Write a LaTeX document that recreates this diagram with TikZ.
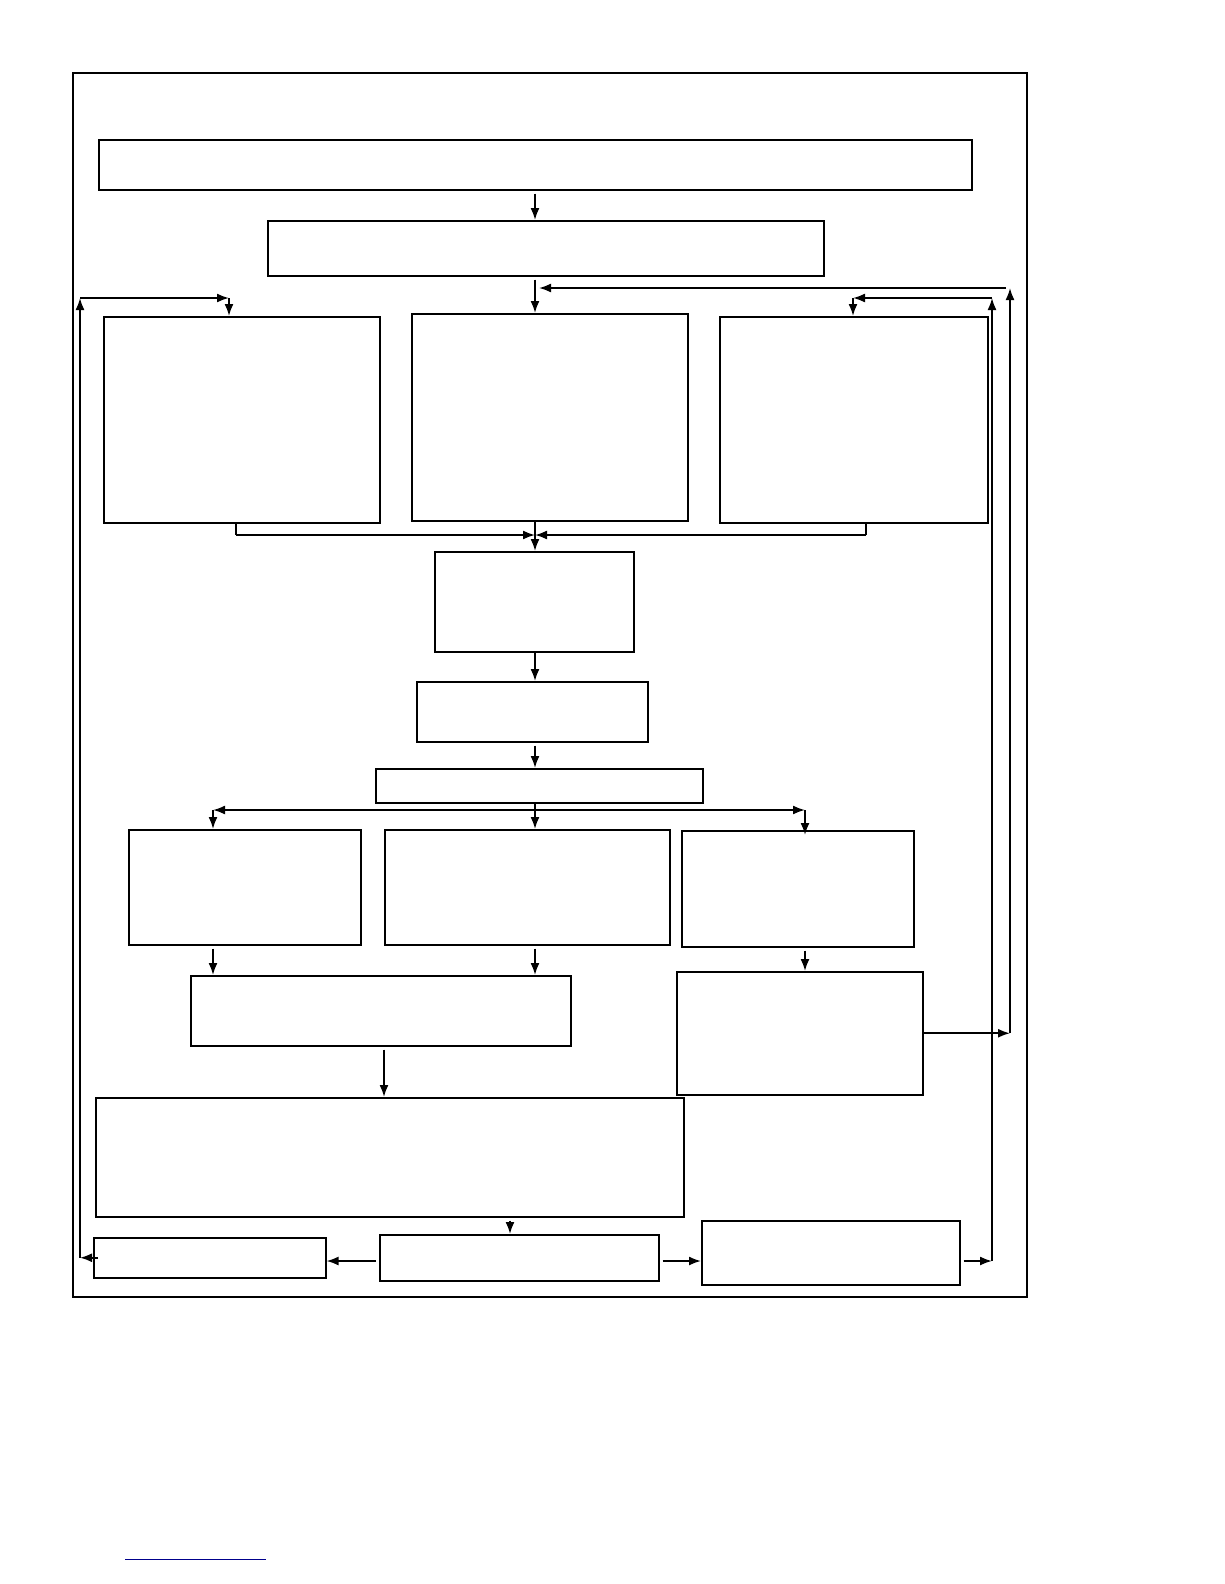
\documentclass[tikz,border=0pt]{standalone}
\usetikzlibrary{shapes,arrows.meta}
\usetikzlibrary{positioning}
\tikzstyle{block} = [rectangle, draw, line width=1.5pt, inner sep=0pt,
    anchor=north west]
\tikzstyle{line} = [draw, line width=1.8pt, -{Latex[length=12pt, width=9pt]}]
\tikzstyle{rail} = [draw, line width=1.8pt]
\begin{document}
\begin{tikzpicture}[x=1pt, y=-1pt]
    \useasboundingbox (0,0) rectangle (1224,1584);
    % Frame
    \draw [line width=2.6pt] (73,73) rectangle (1027,1297);
    % Place nodes
    \node [block, minimum width=873pt, minimum height=50pt] (top) at (98,139) {};
    \node [block, minimum width=556pt, minimum height=55pt] (second) at (267,220) {};
    \node [block, minimum width=276pt, minimum height=206pt] (lbig) at (103,316) {};
    \node [block, minimum width=276pt, minimum height=207pt] (mbig) at (411,313) {};
    \node [block, minimum width=268pt, minimum height=206pt] (rbig) at (719,316) {};
    \node [block, minimum width=199pt, minimum height=100pt] (small) at (434,551) {};
    \node [block, minimum width=231pt, minimum height=60pt] (mid) at (416,681) {};
    \node [block, minimum width=327pt, minimum height=34pt] (bar) at (375,768) {};
    \node [block, minimum width=232pt, minimum height=115pt] (r3l) at (128,829) {};
    \node [block, minimum width=285pt, minimum height=115pt] (r3m) at (384,829) {};
    \node [block, minimum width=232pt, minimum height=116pt] (r3r) at (681,830) {};
    \node [block, minimum width=380pt, minimum height=70pt] (r4l) at (190,975) {};
    \node [block, minimum width=246pt, minimum height=123pt] (r4r) at (676,971) {};
    \node [block, minimum width=588pt, minimum height=119pt] (wide) at (95,1097) {};
    \node [block, minimum width=232pt, minimum height=40pt] (bl) at (93,1237) {};
    \node [block, minimum width=279pt, minimum height=46pt] (bm) at (379,1234) {};
    \node [block, minimum width=258pt, minimum height=64pt] (br) at (701,1220) {};

    % Columns and rows of the connectors
    \coordinate (spine) at (535,0);
    \coordinate (lrail) at (80,0);
    \coordinate (irail) at (992,0);
    \coordinate (orail) at (1010,0);
    \coordinate (fl) at (229,298);
    \coordinate (fr) at (853,298);
    \coordinate (ft) at (535,288);
    \coordinate (jl) at (236,535);
    \coordinate (jr) at (866,535);
    \coordinate (jm) at (535,535);
    \coordinate (sl) at (213,810);
    \coordinate (sr) at (805,810);
    \coordinate (sm) at (535,810);
    \coordinate (lo) at (0,1261);

    % Draw edges
    \path [line, shorten <=3pt] (top.south -| spine) -- (second.north -| spine);
    \path [line, shorten <=3pt] (second.south -| spine) -- (mbig.north -| spine);
    \path [rail] (lbig.south -| jl) -- (jl);
    \path [line] (jl) -- (jm);
    \path [rail] (rbig.south -| jr) -- (jr);
    \path [line] (jr) -- (jm);
    \path [line] (mbig.south -| spine) -- (small.north -| spine);
    \path [line] (small.south -| spine) -- (mid.north -| spine);
    \path [line, shorten <=3pt] (mid.south -| spine) -- (bar.north -| spine);
    \path [line] (bar.south -| spine) -- (r3m.north -| spine);
    \path [line] (sm) -- (sl);
    \path [line] (sm) -- (sr);
    \path [line] (sl) -- (r3l.north -| sl);
    \path [line] (sr) -- ([yshift=-5pt]r3r.north -| sr);
    \path [line, shorten <=3pt] (r3l.south -| sl) -- (r4l.north -| sl);
    \path [line, shorten <=3pt] (r3m.south -| spine) -- (r4l.north -| spine);
    \path [line, shorten <=3pt] (r3r.south -| sr) -- (r4r.north -| sr);
    \path [line, shorten <=3pt] (r4l.south -| 384,0) -- (wide.north -| 384,0);
    \path [line, shorten <=3pt] (wide.south -| 510,0) -- (bm.north -| 510,0);
    \path [line, shorten <=3pt] (bm.west |- lo) -- (bl.east |- lo);
    \path [line, shorten <=3pt] (bm.east |- lo) -- (br.west |- lo);
    % Feedback to the left box
    \path [line] ([xshift=5pt]bl.west) -- (bl.west -| lrail);
    \path [line] (bl.west -| lrail) -- (lrail |- fl);
    \path [line] (lrail |- fl) -- (fl);
    \path [line] (fl) -- (lbig.north -| fl);
    % Feedback to the right box
    \path [line, shorten <=3pt] (br.east |- lo) -- (lo -| irail);
    \path [line] (lo -| irail) -- (irail |- fr);
    \path [line] (irail |- fr) -- (fr);
    \path [line] (fr) -- (rbig.north -| fr);
    % Feedback to the middle box
    \path [line] (r4r.east) -- (r4r.east -| orail);
    \path [line] (r4r.east -| orail) -- (orail |- ft);
    \path [line, shorten <=4pt, shorten >=4pt] (orail |- ft) -- (ft);

    \draw [blue!55!black, line width=1pt] (125,1559) -- (266,1559);
\end{tikzpicture}
\end{document}
